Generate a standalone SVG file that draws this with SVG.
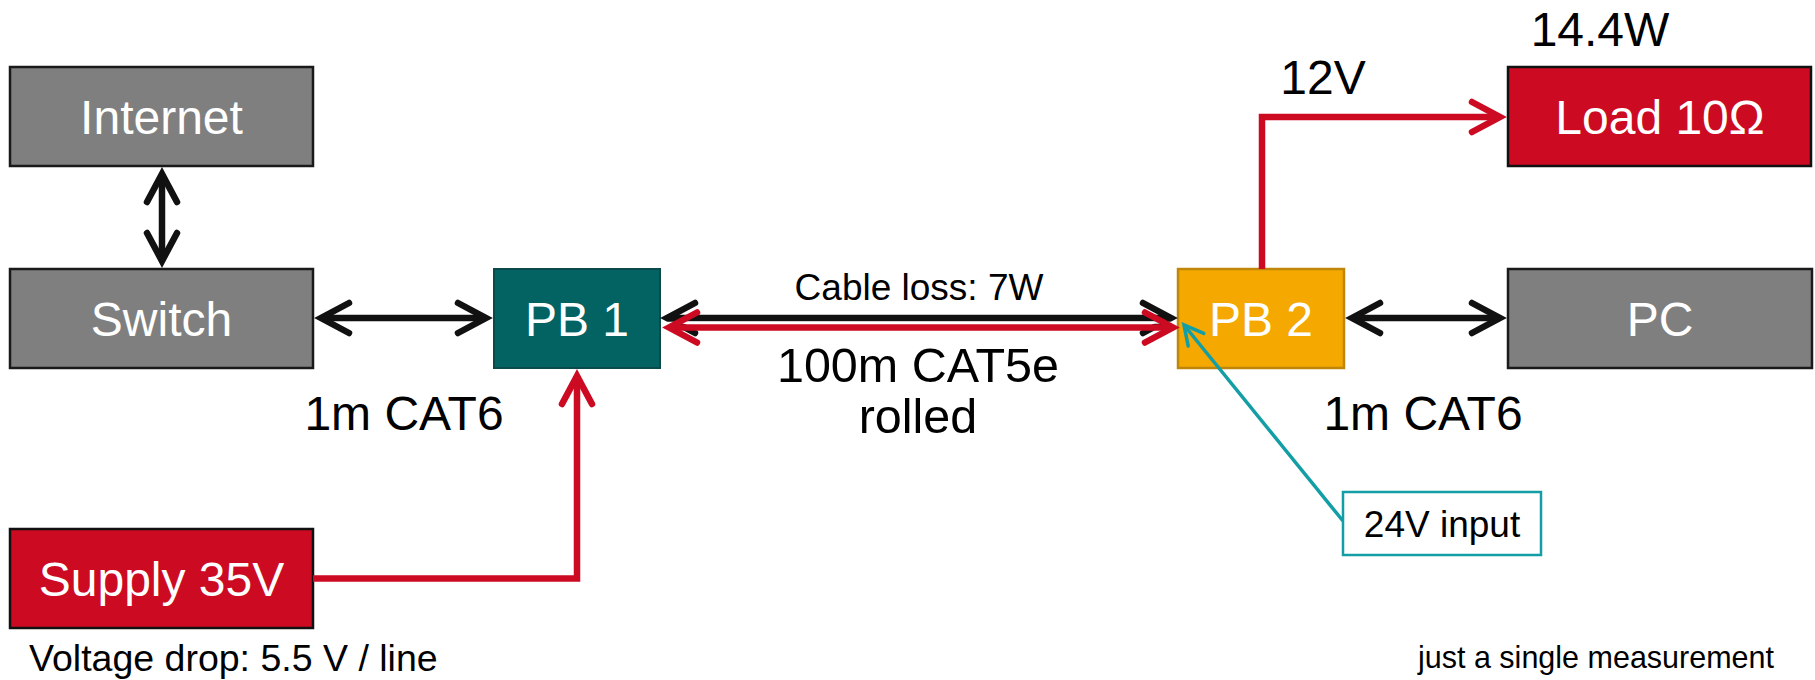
<svg xmlns="http://www.w3.org/2000/svg" width="1815" height="680" viewBox="0 0 1815 680">
  <style>
    text { font-family: "Liberation Sans", Arial, Helvetica, sans-serif; }
    .lbl { font-size: 48px; fill: #ffffff; text-anchor: middle; }
    .note { font-size: 48px; fill: #000000; text-anchor: middle; }
    .small { font-size: 37px; fill: #000000; }
    .gray { fill: #7f7f7f; stroke: #1a1a1a; stroke-width: 2.5; }
    .red { fill: #cc0a22; stroke: #111111; stroke-width: 2.5; }
    .teal { fill: #036262; stroke: #0a4a4a; stroke-width: 2; }
    .amber { fill: #f4a800; stroke: #c0860a; stroke-width: 2.5; }
    .wire-k { fill: none; stroke: #111111; stroke-width: 6.5; }
    .wire-r { fill: none; stroke: #cc0a22; stroke-width: 6.5; }
    .wire-c { fill: none; stroke: #139ea5; stroke-width: 3.5; }
  </style>
  <defs>
    <marker id="chev-k" viewBox="-40 -22 50 44" refX="0" refY="0" markerWidth="50" markerHeight="44" markerUnits="userSpaceOnUse" orient="auto-start-reverse">
      <path d="M-28,-15 L0,0 L-28,15" fill="none" stroke="#111111" stroke-width="6.5" stroke-linecap="round" stroke-linejoin="miter"/>
    </marker>
    <marker id="chev-r" viewBox="-40 -22 50 44" refX="0" refY="0" markerWidth="50" markerHeight="44" markerUnits="userSpaceOnUse" orient="auto-start-reverse">
      <path d="M-28,-15 L0,0 L-28,15" fill="none" stroke="#cc0a22" stroke-width="6.5" stroke-linecap="round" stroke-linejoin="miter"/>
    </marker>
    <marker id="chev-c" viewBox="-30 -16 40 32" refX="0" refY="0" markerWidth="40" markerHeight="32" markerUnits="userSpaceOnUse" orient="auto">
      <path d="M-19,-10 L0,0 L-19,10" fill="none" stroke="#139ea5" stroke-width="3.5" stroke-linecap="round" stroke-linejoin="miter"/>
    </marker>
  </defs>

  <rect width="1815" height="680" fill="#ffffff"/>

  <g id="internet">
    <rect class="gray" x="10" y="67" width="303" height="99"/>
    <text class="lbl" x="161.5" y="134">Internet</text>
  </g>
  <g id="switch">
    <rect class="gray" x="10" y="269" width="303" height="99"/>
    <text class="lbl" x="161.5" y="336">Switch</text>
  </g>
  <g id="pb1">
    <rect class="teal" x="494" y="269" width="166" height="99"/>
    <text class="lbl" x="577" y="336">PB 1</text>
  </g>
  <g id="pb2">
    <rect class="amber" x="1178" y="269" width="166" height="99"/>
    <text class="lbl" x="1261" y="336">PB 2</text>
  </g>
  <g id="pc">
    <rect class="gray" x="1508" y="269" width="304" height="99"/>
    <text class="lbl" x="1660" y="336">PC</text>
  </g>
  <g id="load">
    <rect class="red" x="1508" y="67" width="303" height="99"/>
    <text class="lbl" x="1660" y="134">Load 10Ω</text>
  </g>
  <g id="supply">
    <rect class="red" x="10" y="529" width="303" height="99"/>
    <text class="lbl" x="161.5" y="596">Supply 35V</text>
  </g>
  <g id="input24">
    <rect x="1343" y="492" width="198" height="63" fill="#ffffff" stroke="#139ea5" stroke-width="2.5"/>
    <text class="small" x="1442" y="537" text-anchor="middle">24V input</text>
  </g>

  <!-- connectors, drawn over the boxes so the callout crosses PB 2 -->
  <g id="connectors">
    <!-- Internet <-> Switch -->
    <line class="wire-k" x1="162" y1="174" x2="162" y2="261" marker-start="url(#chev-k)" marker-end="url(#chev-k)"/>
    <!-- Switch <-> PB 1 -->
    <line class="wire-k" x1="321" y1="318" x2="486" y2="318" marker-start="url(#chev-k)" marker-end="url(#chev-k)"/>
    <!-- PB 1 <-> PB 2 data pair -->
    <line class="wire-k" x1="667" y1="318" x2="1171" y2="318" marker-start="url(#chev-k)" marker-end="url(#chev-k)"/>
    <line x1="667" y1="322.8" x2="1171" y2="322.8" stroke="#ffffff" stroke-width="2"/>
    <line class="wire-r" x1="669" y1="327.5" x2="1173" y2="327.5" marker-start="url(#chev-r)" marker-end="url(#chev-r)"/>
    <!-- PB 2 <-> PC -->
    <line class="wire-k" x1="1352" y1="318" x2="1500" y2="318" marker-start="url(#chev-k)" marker-end="url(#chev-k)"/>
    <!-- Supply -> PB 1 -->
    <polyline class="wire-r" points="313,578.5 577,578.5 577,376" marker-end="url(#chev-r)"/>
    <!-- PB 2 -> Load -->
    <polyline class="wire-r" points="1262,269 1262,117 1500,117" marker-end="url(#chev-r)"/>
    <!-- 24V input callout -->
    <line class="wire-c" x1="1343" y1="521" x2="1184" y2="325" marker-end="url(#chev-c)"/>
  </g>

  <g id="labels">
    <text class="note" x="1600" y="46">14.4W</text>
    <text class="note" x="1323" y="94">12V</text>
    <text class="small" x="919" y="300" text-anchor="middle">Cable loss: 7W</text>
    <text class="note" x="918" y="382" style="font-size:48.5px">100m CAT5e</text>
    <text class="note" x="918" y="433" style="font-size:48.5px">rolled</text>
    <text class="note" x="404" y="430">1m CAT6</text>
    <text class="note" x="1423" y="430">1m CAT6</text>
    <text class="small" x="29" y="671" style="font-size:37.5px">Voltage drop: 5.5 V / line</text>
    <text class="small" x="1774" y="668" text-anchor="end" style="font-size:30.5px">just a single measurement</text>
  </g>
</svg>
